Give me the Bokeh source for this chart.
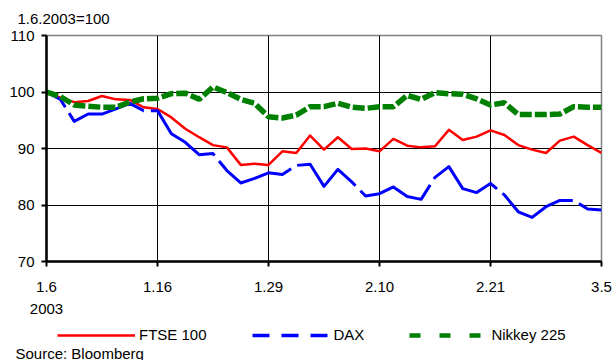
from bokeh.plotting import figure
from bokeh.layouts import column
from bokeh.core.properties import value
from bokeh.models import Range1d, FixedTicker, Legend, LegendItem
from bokeh.embed import file_html
from bokeh.resources import INLINE

# Index levels, 6 Jan 2003 = 100, one point per trading day
tick_pos = [0, 8, 16, 24, 32, 40]
tick_labels = ["1.6\n2003", "1.16", "1.29", "2.10", "2.21", "3.5"]
y_ticks = [70, 80, 90, 100, 110]

ftse = [100, 99.0, 98.2, 98.4, 99.3, 98.7, 98.6, 97.3, 97.0, 95.5,
        93.5, 92.0, 90.6, 90.2, 87.1, 87.3, 87.1, 89.5, 89.2, 92.3,
        89.8, 92.0, 89.9, 90.0, 89.5, 91.7, 90.5, 90.2, 90.4, 93.3,
        91.5, 92.1, 93.2, 92.4, 90.6, 89.8, 89.2, 91.4, 92.1, 90.6, 89.2]
dax = [100, 98.7, 94.8, 96.1, 96.1, 97.0, 98.0, 96.7, 96.7, 92.6,
       91.1, 88.9, 89.1, 86.1, 83.9, 84.7, 85.7, 85.4, 87.0, 87.2,
       83.3, 86.3, 84.1, 81.6, 82.0, 83.2, 81.5, 81.0, 84.9, 86.8,
       82.9, 82.2, 83.8, 81.8, 78.8, 77.8, 79.7, 80.8, 80.8, 79.3, 79.1]
nikkei = [100, 99.2, 97.7, 97.5, 97.3, 97.3, 98.2, 98.8, 98.9, 99.7,
          99.8, 98.7, 100.9, 99.9, 98.7, 98.0, 95.6, 95.4, 95.9, 97.4,
          97.4, 98.0, 97.3, 97.1, 97.4, 97.4, 99.4, 98.7, 99.9, 99.7,
          99.6, 98.8, 97.7, 98.1, 96.0, 96.0, 96.0, 96.1, 97.4, 97.3, 97.3]
days = list(range(len(ftse)))

FONT = "Liberation Sans"
FSIZE = "15px"
RED, BLUE, GREEN = "#ff0000", "#0000ff", "#008000"


def strip(height):
    """Blank band whose ranges run in pixels, y measured downwards."""
    f = figure(width=615, height=height, output_backend="svg",
               toolbar_location=None, x_axis_type=None, y_axis_type=None,
               x_range=Range1d(0, 615), y_range=Range1d(height, 0),
               min_border_left=0, min_border_right=0,
               min_border_top=0, min_border_bottom=0)
    f.frame_align = False
    f.outline_line_color = None
    f.background_fill_color = "white"
    f.border_fill_color = "white"
    f.grid.visible = False
    return f


def caption(f, x, y, text):
    f.text(x=[x], y=[y], text=[text], text_font=value(FONT),
           text_font_size=FSIZE, text_color="black",
           text_baseline="top", text_align="left")


# --- heading band ---
top = strip(26)
caption(top, 17, 9, "1.6.2003=100")

# --- main chart ---
p = figure(width=615, height=294, output_backend="svg", toolbar_location=None,
           x_range=Range1d(0, 40), y_range=Range1d(70, 110),
           min_border_left=46, min_border_right=14,
           min_border_top=9, min_border_bottom=59)
p.frame_align = False
p.background_fill_color = "white"
p.border_fill_color = "white"
p.outline_line_color = "#808080"
p.outline_line_width = 1.5

p.xaxis.ticker = FixedTicker(ticks=tick_pos)
p.xaxis.major_label_overrides = dict(zip(tick_pos, tick_labels))
p.yaxis.ticker = FixedTicker(ticks=y_ticks)
for ax in (p.xaxis, p.yaxis):
    ax.axis_line_color = "black"
    ax.axis_line_width = 2.5
    ax.major_tick_line_color = "black"
    ax.major_tick_line_width = 2
    ax.major_tick_out = 5
    ax.major_tick_in = 0
    ax.minor_tick_line_color = None
    ax.major_label_text_font = FONT
    ax.major_label_text_font_size = FSIZE
    ax.major_label_text_color = "black"
p.xaxis.major_label_standoff = 11
p.xaxis.major_label_text_line_height = 1.3
p.yaxis.major_label_standoff = 7

p.xgrid.ticker = FixedTicker(ticks=tick_pos)
p.ygrid.ticker = FixedTicker(ticks=y_ticks)
for g in (p.xgrid, p.ygrid):
    g.grid_line_color = "black"
    g.grid_line_width = 1
    g.grid_line_alpha = 1

p.line(days, ftse, line_color=RED, line_width=2.5, line_join="round")
p.line(days, dax, line_color=BLUE, line_width=3, line_dash="85 7",
       line_dash_offset=60, line_join="round")
p.line(days, nikkei, line_color=GREEN, line_width=5.5, line_dash="12 3")

# --- legend and source band ---
# swatch renderers sit outside the band's ranges, so only their legend entries show
bottom = strip(40)
off = [-100, -90]
lg_ftse = bottom.line(off, off, line_color=RED, line_width=2.5)
lg_dax = bottom.line(off, off, line_color=BLUE, line_width=3.5, line_dash="17 12")
lg_nik = bottom.line(off, off, line_color=GREEN, line_width=4.5, line_dash="11 19")
legend = Legend(items=[LegendItem(label="FTSE 100", renderers=[lg_ftse]),
                       LegendItem(label="DAX", renderers=[lg_dax]),
                       LegendItem(label="Nikkey 225", renderers=[lg_nik])],
                orientation="horizontal", location=(57, 17),
                glyph_width=78, glyph_height=16, label_height=16,
                label_standoff=4, spacing=45, padding=0, margin=0,
                border_line_alpha=0, background_fill_alpha=0,
                label_text_font=FONT, label_text_font_size=FSIZE,
                label_text_color="black")
bottom.add_layout(legend, "center")
caption(bottom, 15, 24, "Source: Bloomberg")

layout = column(top, p, bottom, spacing=0)
open("out.html", "w").write(file_html(layout, INLINE))
